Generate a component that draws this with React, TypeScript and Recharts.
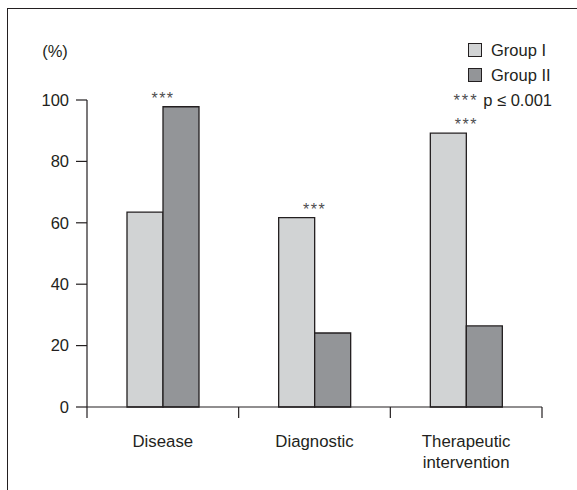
import React from "react";
import { BarChart, Bar, XAxis, YAxis, Legend, LabelList } from "recharts";

const categories = ["Disease", "Diagnostic", "Therapeutic intervention"];
const categoryLines = [["Disease"], ["Diagnostic"], ["Therapeutic", "intervention"]];
const groupI = [63.5, 61.7, 89.2];
const groupII = [97.8, 24.1, 26.4];
const significance = ["***", "***", "***"];
const seriesNames = ["Group I", "Group II"];
const yTicks = [0, 20, 40, 60, 80, 100];
const pStars = "***";
const pNote = "p \u2264 0.001";

const INK = "#231f20";
const FILL_I = "#d1d3d4";
const FILL_II = "#939598";
const FONT = "'Liberation Sans', Arial, sans-serif";

// plot box, page coords
const PLOT_LEFT = 87;
const PLOT_RIGHT = 542;
const PLOT_TOP = 100;
const PLOT_BOTTOM = 407;
const W = 577;
const H = 490;
const Y_AXIS_W = 60;
const X_AXIS_H = 50;

const data = categories.map((name, i) => ({
  name,
  g1: groupI[i],
  g2: groupII[i],
}));

function CategoryTick(props: any) {
  const { x, y, index, payload } = props;
  const half = (PLOT_RIGHT - PLOT_LEFT) / categories.length / 2;
  const lines = categoryLines[index] ?? [String(payload?.value ?? "")];
  const last = index === categories.length - 1;
  return (
    <g>
      <line x1={x - half} x2={x - half} y1={y} y2={y + 11} stroke={INK} strokeWidth={1.2} />
      {last && (
        <line x1={x + half} x2={x + half} y1={y} y2={y + 11} stroke={INK} strokeWidth={1.2} />
      )}
      <text x={x} y={y + 39.5} textAnchor="middle" fill={INK} fontSize={16.8} fontFamily={FONT}>
        {lines.map((l, i) => (
          <tspan key={i} x={x} dy={i === 0 ? 0 : 21}>
            {l}
          </tspan>
        ))}
      </text>
    </g>
  );
}

// stars sit above the taller bar of each pair, centred on the pair
function StarLabel(props: any) {
  const { x, y, width, height, index } = props;
  const v = groupI[index];
  if (!v || !significance[index]) return null;
  const base = y + height;
  const scale = height / v;
  const top = base - Math.max(groupI[index], groupII[index]) * scale;
  return (
    <text
      x={x + width}
      y={top - 3}
      textAnchor="middle"
      fill="#4d4d4f"
      fontSize={16}
      letterSpacing={1.5}
      fontFamily={FONT}
    >
      {significance[index]}
    </text>
  );
}

function LegendBox() {
  const fills = [FILL_I, FILL_II];
  return (
    <div style={{ fontFamily: FONT, fontSize: 16.5, color: INK, width: 112 }}>
      {seriesNames.map((n, i) => (
        <div
          key={n}
          style={{ height: 25, display: "flex", alignItems: "center", paddingLeft: 28 }}
        >
          <span
            style={{
              display: "inline-block",
              width: 12,
              height: 12,
              background: fills[i],
              border: `1.2px solid ${INK}`,
              marginRight: 9,
            }}
          />
          <span>{n}</span>
        </div>
      ))}
      <div style={{ height: 25, lineHeight: "25px", textAlign: "right", whiteSpace: "nowrap" }}>
        <span style={{ letterSpacing: 2, color: "#4d4d4f" }}>{pStars}</span> {pNote}
      </div>
    </div>
  );
}

export default function App() {
  return (
    <div
      style={{
        position: "absolute",
        left: 0,
        top: 0,
        width: W,
        height: H,
        background: "#fff",
        overflow: "hidden",
      }}
    >
      <div
        style={{
          position: "absolute",
          left: 7,
          top: 8,
          width: W - 7,
          height: H - 8,
          borderTop: `1.2px solid ${INK}`,
          borderLeft: `1.2px solid ${INK}`,
          boxSizing: "border-box",
        }}
      />
      <div style={{ position: "absolute", left: 0, top: 0 }}>
        <BarChart
          width={W}
          height={H}
          data={data}
          barGap={0}
          barSize={36}
          margin={{
            top: PLOT_TOP,
            left: PLOT_LEFT - Y_AXIS_W,
            right: W - PLOT_RIGHT,
            bottom: H - PLOT_BOTTOM - X_AXIS_H,
          }}
        >
          <XAxis
            dataKey="name"
            height={X_AXIS_H}
            axisLine={{ stroke: INK, strokeWidth: 1.2 }}
            tickLine={false}
            tickSize={0}
            tickMargin={0}
            interval={0}
            tick={<CategoryTick />}
          />
          <YAxis
            width={Y_AXIS_W}
            domain={[0, 100]}
            ticks={yTicks}
            interval={0}
            axisLine={{ stroke: INK, strokeWidth: 1.2 }}
            tickLine={{ stroke: INK, strokeWidth: 1.2 }}
            tickSize={11}
            tickMargin={7}
            tick={{ fill: INK, fontSize: 16.5, fontFamily: FONT }}
            label={{
              content: () => (
                <text x={55} y={57} textAnchor="middle" fill={INK} fontSize={16.5} fontFamily={FONT}>
                  (%)
                </text>
              ),
            }}
          />
          <Legend
            layout="vertical"
            align="center"
            verticalAlign="middle"
            wrapperStyle={{ left: 440, top: 37.5, width: 112 }}
            content={() => <LegendBox />}
          />
          <Bar
            dataKey="g1"
            name={seriesNames[0]}
            fill={FILL_I}
            stroke={INK}
            strokeWidth={1.3}
            isAnimationActive={false}
          >
            <LabelList dataKey="g1" content={<StarLabel />} />
          </Bar>
          <Bar
            dataKey="g2"
            name={seriesNames[1]}
            fill={FILL_II}
            stroke={INK}
            strokeWidth={1.3}
            isAnimationActive={false}
          />
        </BarChart>
      </div>
    </div>
  );
}
